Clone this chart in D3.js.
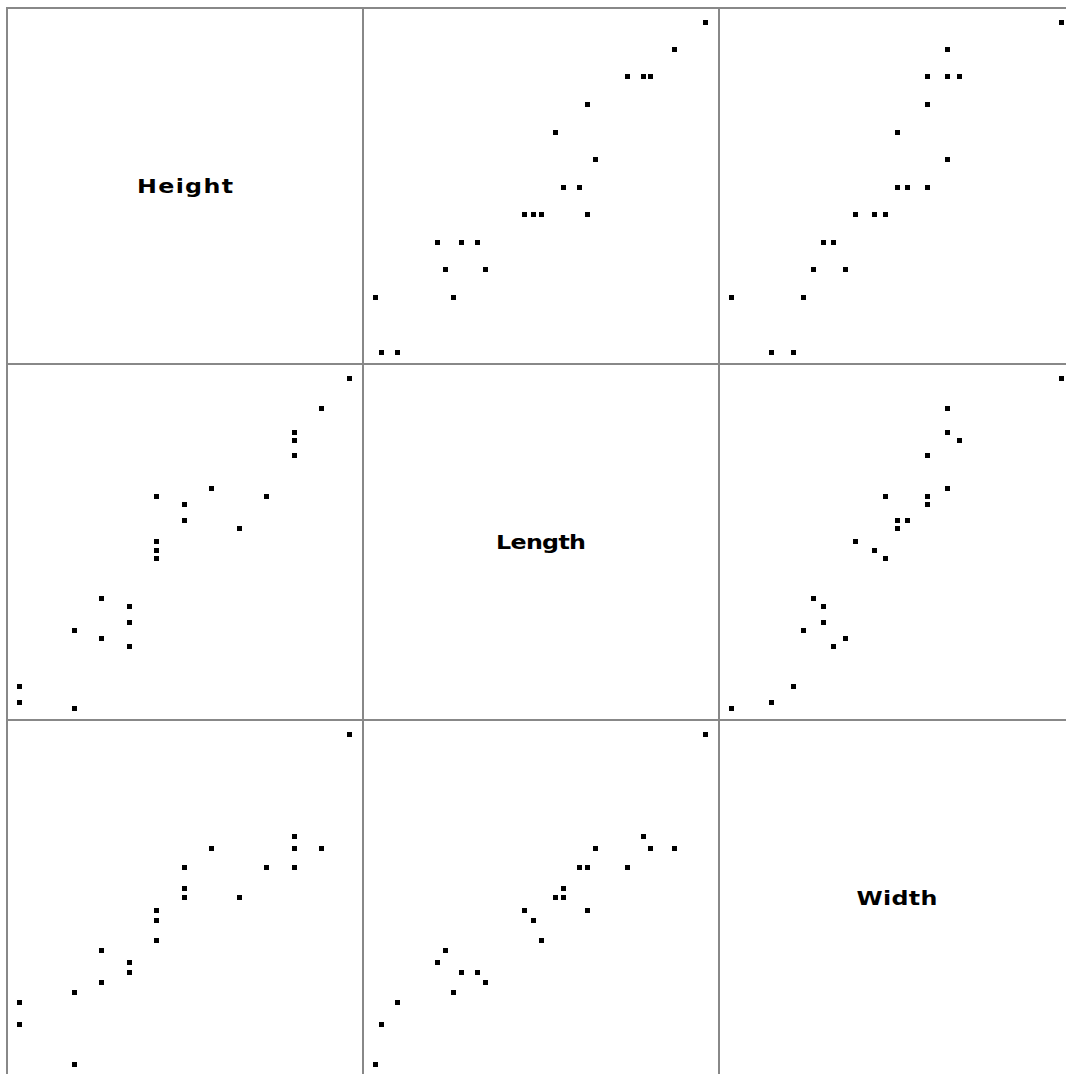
<!DOCTYPE html>
<html>
<head>
<meta charset="utf-8">
<script src="https://cdn.jsdelivr.net/npm/d3@7"></script>
<style>
    body { margin: 0; background: #fff; }
    svg { display: block; }
</style>
</head>
<body>
<div id="chart"></div>
<script>
var variables = ['Height', 'Length', 'Width'];

var heightVals = [12, 11, 10, 10, 10, 9, 8, 7, 6, 6, 6, 5, 5, 5, 5, 4, 4, 4, 3, 3, 2, 2, 0, 0];
var lengthVals = [165, 150, 138, 134, 126, 106, 90, 110, 102, 94, 94, 106, 83, 79, 75, 51, 43, 31, 55, 35, 39, 0, 11, 3];
var widthVals = [165, 108, 108, 114, 98, 98, 83, 108, 98, 83, 88, 77, 62, 72, 77, 46, 46, 51, 41, 57, 36, 0, 31, 20];

(function () {
    'use strict';

    var W = 1066;
    var H = 1074;
    var cell = 356;
    var left = 7;
    var top = 8;
    var dot = 5;
    var stretch = 1.25; // the original font is a wide blocky one

    var columns = {
        'Height': heightVals,
        'Length': lengthVals,
        'Width': widthVals
    };
    // label widths of the blocky font in the original
    var labelWidth = { 'Height': 96, 'Length': 90, 'Width': 81 };

    var svg = d3.select('#chart')
        .append('svg')
        .attr('width', W)
        .attr('height', H)
        .style('background-color', '#fff');

    var xScale = {};
    var yScale = {};
    variables.forEach(function (v) {
        xScale[v] = d3.scaleLinear().domain(d3.extent(columns[v])).range([12, 342]);
        yScale[v] = d3.scaleLinear().domain(d3.extent(columns[v])).range([344, 14]);
    });

    var rows = heightVals.map(function (d, i) {
        return { 'Height': heightVals[i], 'Length': lengthVals[i], 'Width': widthVals[i] };
    });

    var cells = [];
    variables.forEach(function (rowVar, r) {
        variables.forEach(function (colVar, c) {
            cells.push({ r: r, c: c, xVar: colVar, yVar: rowVar });
        });
    });

    var panel = svg.selectAll('g.panel')
        .data(cells)
        .enter()
        .append('g')
        .attr('class', 'panel')
        .attr('transform', function (d) {
            return 'translate(' + (left + d.c * cell) + ',' + (top + d.r * cell) + ')';
        });

    // diagonal: variable name
    panel.filter(function (d) { return d.r === d.c; })
        .append('text')
        .attr('transform', 'translate(' + (cell / 2) + ',' + (cell / 2 + 7) + ') scale(' + stretch + ',1)')
        .attr('text-anchor', 'middle')
        .attr('textLength', function (d) { return labelWidth[d.xVar] / stretch; })
        .attr('lengthAdjust', 'spacing')
        .style('font-family', '"DejaVu Sans", sans-serif')
        .style('font-weight', 'bold')
        .style('font-size', '19px')
        .style('fill', '#000')
        .text(function (d) { return d.xVar; });

    // off diagonal: scatter of squares
    panel.filter(function (d) { return d.r !== d.c; })
        .each(function (d) {
            d3.select(this).selectAll('rect.pt')
                .data(rows)
                .enter()
                .append('rect')
                .attr('class', 'pt')
                .attr('x', function (p) { return Math.round(xScale[d.xVar](p[d.xVar]) - dot / 2); })
                .attr('y', function (p) { return Math.round(yScale[d.yVar](p[d.yVar]) - dot / 2); })
                .attr('width', dot)
                .attr('height', dot)
                .attr('fill', '#000');
        });

    // frame
    var edges = d3.range(4).map(function (i) { return i * cell; });

    svg.selectAll('line.vgrid')
        .data(edges)
        .enter()
        .append('line')
        .attr('class', 'vgrid')
        .attr('x1', function (d) { return left + d; })
        .attr('x2', function (d) { return left + d; })
        .attr('y1', top - 1)
        .attr('y2', top + 3 * cell)
        .attr('stroke', '#888')
        .attr('stroke-width', 2);

    svg.selectAll('line.hgrid')
        .data(edges)
        .enter()
        .append('line')
        .attr('class', 'hgrid')
        .attr('y1', function (d) { return top + d; })
        .attr('y2', function (d) { return top + d; })
        .attr('x1', left - 1)
        .attr('x2', left + 3 * cell)
        .attr('stroke', '#888')
        .attr('stroke-width', 2);
})();
</script>
</body>
</html>
